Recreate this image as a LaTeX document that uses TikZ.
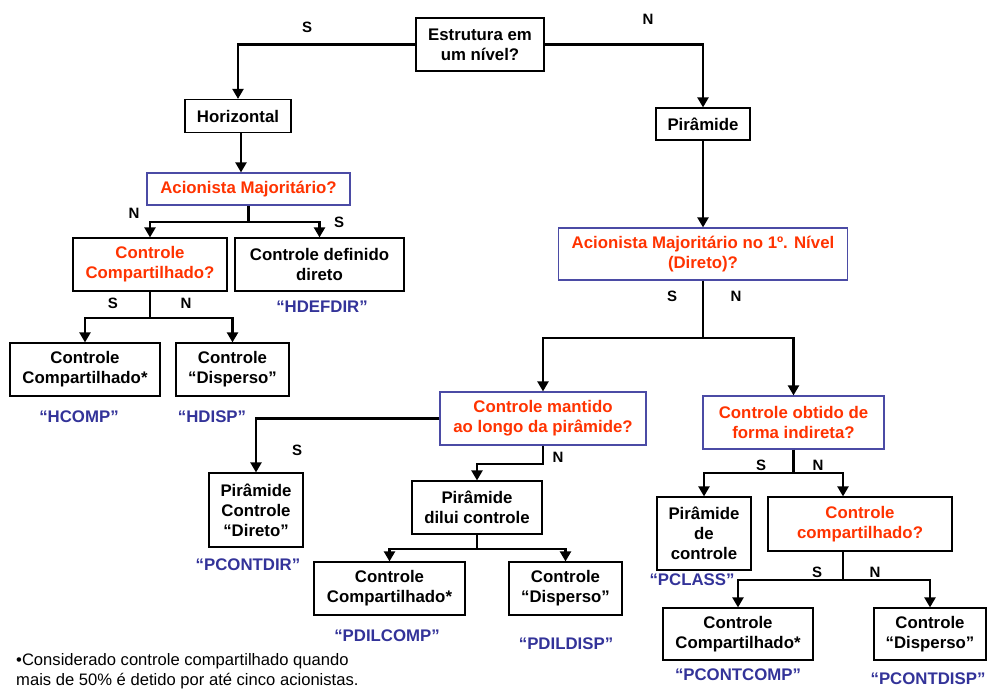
\documentclass[tikz,border=0pt]{standalone}
\usepackage{fontspec}
\setmainfont{Liberation Sans}
\usepackage{tikz}
\usetikzlibrary{arrows.meta,positioning,calc}
\definecolor{QRed}{HTML}{FF3300}
\definecolor{CodeBlue}{HTML}{333399}
\definecolor{QFrame}{HTML}{4B4BA5}
\tikzset{
  fc/box/.style={draw, line width=1.2pt, fill=white, align=center, inner sep=2pt,
    font=\fontsize{16.8}{20}\selectfont\bfseries},
  fc/question/.style={fc/box, text=QRed},
  fc/askblue/.style={fc/question, draw=QFrame},
  fc/code/.style={text=CodeBlue, inner sep=1pt, font=\fontsize{16.8}{20}\selectfont\bfseries},
  fc/ans/.style={inner sep=1pt, font=\fontsize{15}{18}\selectfont\bfseries},
  fc/note/.style={align=left, inner sep=0pt, font=\fontsize{16.6}{19.5}\selectfont},
  fc/line/.style={line width=2.2pt, -{Triangle[length=10pt,width=11pt]}},
  fc/split/.style={line width=2.2pt}
}
\begin{document}
\begin{tikzpicture}[x=1pt, y=-1pt]
  \useasboundingbox (0,0) rectangle (987,690);
  % top level
  \node[fc/box, minimum width=128, minimum height=53] (est) at (480,44.5) {Estrutura em\\um nível?};
  \node[fc/box, minimum width=106, minimum height=33] (horiz) at (238,116) {Horizontal};
  \node[fc/box, minimum width=94, minimum height=32] (pir) at (703,124) {Pirâmide};
  \draw[fc/line] (est.west) -| (horiz.north);
  \draw[fc/line] (est.east) -| (pir.north);
  \node[fc/ans] at (307,27) {S};
  \node[fc/ans] at (648,19) {N};

  % horizontal branch
  \node[fc/askblue, minimum width=203, minimum height=32] (acmajh) at (248.5,189) {Acionista Majoritário?};
  \node[fc/question, minimum width=154, minimum height=53] (ccq) at (150,264.5) {Controle\\Compartilhado?};
  \node[fc/box, minimum width=169, minimum height=53] (cdd) at (319.5,264.5) {Controle definido\\direto};
  \node[fc/box, minimum width=150, minimum height=53] (hcomp) at (85,369.5) {Controle\\Compartilhado*};
  \node[fc/box, minimum width=113, minimum height=53] (hdisp) at (232.5,369.5) {Controle\\“Disperso”};
  \draw[fc/line] ([xshift=3pt]horiz.south) -- ([xshift=3pt]horiz.south |- acmajh.north);
  \draw[fc/split] (acmajh.south) -- ++(0,16) coordinate (jh);
  \draw[fc/line] (jh) -| (ccq.north);
  \draw[fc/line] (jh) -| (cdd.north);
  \draw[fc/split] (ccq.south) -- ++(0,26) coordinate (jc);
  \draw[fc/line] (jc) -| (hcomp.north);
  \draw[fc/line] (jc) -| (hdisp.north);
  \node[fc/ans] at (134,213) {N};
  \node[fc/ans] at (339,222) {S};
  \node[fc/ans] at (113,303) {S};
  \node[fc/ans] at (186,303) {N};
  \node[fc/code] at (322,307) {“HDEFDIR”};
  \node[fc/code] at (79,417) {“HCOMP”};
  \node[fc/code] at (212,417) {“HDISP”};

  % pyramid branch
  \node[fc/askblue, minimum width=289, minimum height=52] (acmaj1) at (703,254) {Acionista Majoritário no 1º. Nível\\(Direto)?};
  \draw[fc/line] (pir.south) -- (acmaj1.north);
  \node[fc/askblue, minimum width=206, minimum height=53] (cmq) at (543,418.5) {Controle mantido\\ao longo da pirâmide?};
  \node[fc/askblue, minimum width=181, minimum height=53] (coq) at (793.5,422.5) {Controle obtido de\\forma indireta?};
  \draw[fc/split] (acmaj1.south) -- ++(0,57) coordinate (jp);
  \draw[fc/line] (jp) -| (cmq.north);
  \draw[fc/line] (jp) -| (coq.north);
  \node[fc/ans] at (672,296) {S};
  \node[fc/ans] at (736,296) {N};

  % controle mantido
  \node[fc/box, minimum width=94, minimum height=74] (pcd) at (256,510) {Pirâmide\\Controle\\“Direto”};
  \node[fc/box, minimum width=130, minimum height=53] (pdil) at (477,507.5) {Pirâmide\\dilui controle};
  \node[fc/box, minimum width=151, minimum height=53] (pdcomp) at (389.5,588.5) {Controle\\Compartilhado*};
  \node[fc/box, minimum width=113, minimum height=53] (pddisp) at (565.5,588.5) {Controle\\“Disperso”};
  \draw[fc/line] (cmq.west) -| (pcd.north);
  \draw[fc/line] (cmq.south) -- ++(0,18) -| (pdil.north);
  \draw[fc/split] (pdil.south) -- ++(0,14) coordinate (jd);
  \draw[fc/line] (jd) -| (pdcomp.north);
  \draw[fc/line] (jd) -| (pddisp.north);
  \node[fc/ans] at (297,450) {S};
  \node[fc/ans] at (558,457) {N};
  \node[fc/code] at (248,565) {“PCONTDIR”};
  \node[fc/code] at (387,636) {“PDILCOMP”};
  \node[fc/code] at (566,644) {“PDILDISP”};

  % controle obtido
  \node[fc/box, minimum width=94, minimum height=73] (pdec) at (704,533.5) {Pirâmide\\de\\controle};
  \node[fc/question, minimum width=184, minimum height=54] (ccq2) at (860,524) {Controle\\compartilhado?};
  \node[fc/box, minimum width=150, minimum height=52] (pccomp) at (738,634) {Controle\\Compartilhado*};
  \node[fc/box, minimum width=112, minimum height=52] (pcdisp) at (930,634) {Controle\\“Disperso”};
  \draw[fc/split] (coq.south) -- ++(0,23) coordinate (jo);
  \draw[fc/line] (jo) -| (pdec.north);
  \draw[fc/line] (jo) -| ([xshift=-17pt]ccq2.north);
  \draw[fc/split] ([xshift=-17pt]ccq2.south) -- ++(0,28) coordinate (jq);
  \draw[fc/line] (jq) -| (pccomp.north);
  \draw[fc/line] (jq) -| (pcdisp.north);
  \node[fc/ans] at (761,465) {S};
  \node[fc/ans] at (818,465) {N};
  \node[fc/ans] at (817,572) {S};
  \node[fc/ans] at (875,572) {N};
  \node[fc/code] at (692,580) {“PCLASS”};
  \node[fc/code] at (738,675) {“PCONTCOMP”};
  \node[fc/code] at (928,679) {“PCONTDISP”};

  % footnote
  \node[fc/note, anchor=west] (note) at (16,671) {•Considerado controle compartilhado quando\\mais de 50\% é detido por até cinco acionistas.};
\end{tikzpicture}
\end{document}
